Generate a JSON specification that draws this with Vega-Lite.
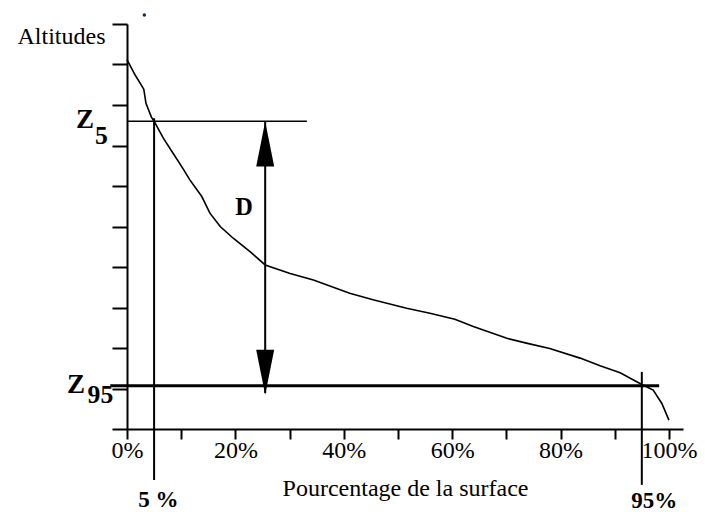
{
  "$schema": "https://vega.github.io/schema/vega-lite/v6.json",
  "width": 556,
  "height": 405,
  "autosize": {"type": "none"},
  "padding": {"left": 127, "top": 24, "right": 22, "bottom": 83},
  "background": "white",
  "config": {
    "view": {"stroke": null},
    "font": "Liberation Serif",
    "axis": {
      "domainColor": "black",
      "domainWidth": 2,
      "tickColor": "black",
      "tickWidth": 2,
      "labelFont": "Liberation Serif",
      "labelColor": "black",
      "titleFont": "Liberation Serif",
      "titleColor": "black",
      "titleFontWeight": "normal",
      "grid": false
    }
  },
  "datasets": {
    "curve": [
      {"surface": 0, "altitude": 9.12},
      {"surface": 1.5, "altitude": 8.74},
      {"surface": 3.1, "altitude": 8.39},
      {"surface": 3.5, "altitude": 8.04},
      {"surface": 4.5, "altitude": 7.7},
      {"surface": 5, "altitude": 7.6},
      {"surface": 6.7, "altitude": 7.18},
      {"surface": 8.5, "altitude": 6.81},
      {"surface": 10.1, "altitude": 6.48},
      {"surface": 11.6, "altitude": 6.15},
      {"surface": 13.8, "altitude": 5.74},
      {"surface": 15.3, "altitude": 5.33},
      {"surface": 17.2, "altitude": 5.0},
      {"surface": 19.6, "altitude": 4.71},
      {"surface": 22.7, "altitude": 4.38},
      {"surface": 25.5, "altitude": 4.05},
      {"surface": 30.1, "altitude": 3.84},
      {"surface": 34.4, "altitude": 3.68},
      {"surface": 41.1, "altitude": 3.35},
      {"surface": 45.4, "altitude": 3.19},
      {"surface": 51.6, "altitude": 2.98},
      {"surface": 55.9, "altitude": 2.86},
      {"surface": 60.5, "altitude": 2.71},
      {"surface": 63.9, "altitude": 2.53},
      {"surface": 70.1, "altitude": 2.24},
      {"surface": 73.7, "altitude": 2.12},
      {"surface": 78.0, "altitude": 1.99},
      {"surface": 83.6, "altitude": 1.75},
      {"surface": 87.3, "altitude": 1.56},
      {"surface": 91.0, "altitude": 1.39},
      {"surface": 95, "altitude": 1.1},
      {"surface": 97.1, "altitude": 0.96},
      {"surface": 98.7, "altitude": 0.63},
      {"surface": 100, "altitude": 0.22}
    ],
    "z5": [{"surface": 0, "surfaceEnd": 33.2, "altitude": 7.6}],
    "z95": [{"surface": -3.1, "surfaceEnd": 98.2, "altitude": 1.07}],
    "quantiles": [
      {"surface": 5, "altitude": 7.67, "altitudeEnd": -1.26},
      {"surface": 95, "altitude": 1.41, "altitudeEnd": -1.38}
    ],
    "spread": [{"surface": 25.5, "altitude": 7.6, "altitudeEnd": 0.89}],
    "heads": [
      {"surface": 25.5, "altitude": 7.04, "dir": "up"},
      {"surface": 25.5, "altitude": 1.4, "dir": "down"}
    ],
    "speck": [{"surface": 3.2, "altitude": 10.22}],
    "labels": [
      {"text": "Z", "surface": -7.75, "altitude": 7.43, "kind": "letter"},
      {"text": "5", "surface": -4.7, "altitude": 7.04, "kind": "sub"},
      {"text": "Z", "surface": -9.4, "altitude": 0.89, "kind": "letter"},
      {"text": "95", "surface": -4.9, "altitude": 0.64, "kind": "sub"},
      {"text": "D", "surface": 21.6, "altitude": 5.28, "kind": "big"},
      {"text": "5 %", "surface": 5.8, "altitude": -1.93, "kind": "pct"},
      {"text": "95%", "surface": 97.3, "altitude": -1.95, "kind": "pct"}
    ]
  },
  "layer": [
    {
      "data": {"name": "curve"},
      "mark": {"type": "line", "color": "black", "strokeWidth": 1.6},
      "encoding": {
        "x": {
          "field": "surface",
          "type": "quantitative",
          "scale": {"domain": [0, 102.6], "nice": false, "zero": false},
          "axis": {
            "title": "Pourcentage de la surface",
            "titleFontSize": 24,
            "titleY": 66,
            "titleBaseline": "alphabetic",
            "values": [0, 10, 20, 30, 40, 50, 60, 70, 80, 90, 100],
            "labelExpr": "datum.value % 20 === 0 ? datum.value + '%' : ''",
            "labelFontSize": 24,
            "labelPadding": -1,
            "labelFlush": false,
            "labelOverlap": false,
            "tickSize": 10
          }
        },
        "y": {
          "field": "altitude",
          "type": "quantitative",
          "scale": {"domain": [0, 10], "nice": false, "zero": false},
          "axis": {
            "title": "Altitudes",
            "titleFontSize": 24,
            "titleAngle": 0,
            "titleAlign": "right",
            "titleBaseline": "alphabetic",
            "titleX": -22,
            "titleY": 19,
            "values": [0, 1, 2, 3, 4, 5, 6, 7, 8, 9, 10],
            "labels": false,
            "tickSize": 15
          }
        }
      }
    },
    {
      "data": {"name": "z5"},
      "mark": {"type": "rule", "color": "black", "strokeWidth": 1.6},
      "encoding": {
        "x": {"field": "surface", "type": "quantitative"},
        "x2": {"field": "surfaceEnd"},
        "y": {"field": "altitude", "type": "quantitative"}
      }
    },
    {
      "data": {"name": "z95"},
      "mark": {"type": "rule", "color": "black", "strokeWidth": 3},
      "encoding": {
        "x": {"field": "surface", "type": "quantitative"},
        "x2": {"field": "surfaceEnd"},
        "y": {"field": "altitude", "type": "quantitative"}
      }
    },
    {
      "data": {"name": "quantiles"},
      "mark": {"type": "rule", "color": "black", "strokeWidth": 2},
      "encoding": {
        "x": {"field": "surface", "type": "quantitative"},
        "y": {"field": "altitude", "type": "quantitative"},
        "y2": {"field": "altitudeEnd"}
      }
    },
    {
      "data": {"name": "spread"},
      "mark": {"type": "rule", "color": "black", "strokeWidth": 2},
      "encoding": {
        "x": {"field": "surface", "type": "quantitative"},
        "y": {"field": "altitude", "type": "quantitative"},
        "y2": {"field": "altitudeEnd"}
      }
    },
    {
      "data": {"name": "heads"},
      "mark": {"type": "point", "filled": true, "color": "black", "opacity": 1, "size": 2025, "strokeWidth": 0},
      "encoding": {
        "x": {"field": "surface", "type": "quantitative"},
        "y": {"field": "altitude", "type": "quantitative"},
        "shape": {
          "field": "dir",
          "type": "nominal",
          "scale": {
            "domain": ["up", "down"],
            "range": ["M0,-1L0.4,1L-0.4,1Z", "M0,1L0.4,-1L-0.4,-1Z"]
          },
          "legend": null
        }
      }
    },
    {
      "data": {"name": "speck"},
      "mark": {"type": "point", "shape": "circle", "filled": true, "color": "#1a2a55", "opacity": 1, "size": 12},
      "encoding": {
        "x": {"field": "surface", "type": "quantitative"},
        "y": {"field": "altitude", "type": "quantitative"}
      }
    },
    {
      "data": {"name": "labels"},
      "mark": {"type": "text", "color": "black", "fontWeight": "bold", "align": "center", "baseline": "alphabetic", "font": "Liberation Serif"},
      "encoding": {
        "x": {"field": "surface", "type": "quantitative"},
        "y": {"field": "altitude", "type": "quantitative"},
        "text": {"field": "text"},
        "size": {
          "field": "kind",
          "type": "ordinal",
          "scale": {"domain": ["letter", "sub", "big", "pct"], "range": [27, 23, 33, 29]},
          "legend": null
        }
      }
    }
  ]
}
